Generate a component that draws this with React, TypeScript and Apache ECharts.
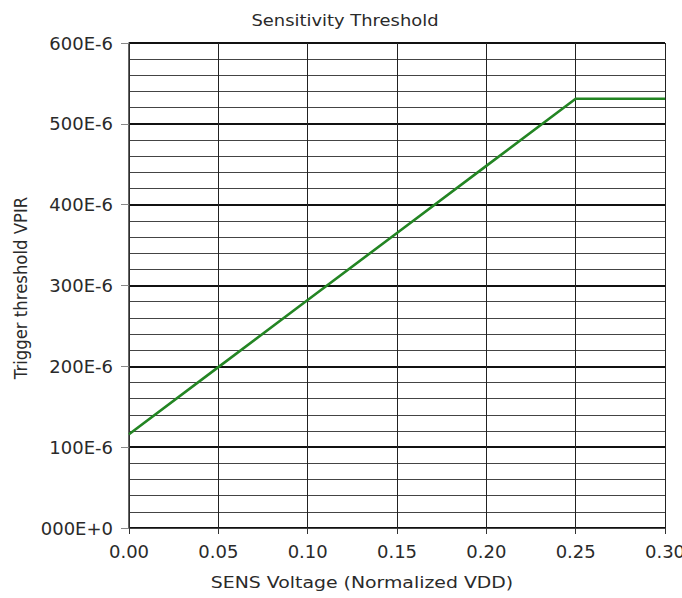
import React, { useEffect, useRef } from "react";
import * as echarts from "echarts";

const chartTitle = "Sensitivity Threshold";
const xAxisName = "SENS Voltage (Normalized VDD)";
const yAxisName = "Trigger threshold VPIR";

// x: SENS voltage (normalized VDD); y: trigger threshold in units of 1E-6
const sensVoltage = [0.0, 0.05, 0.1, 0.15, 0.2, 0.25, 0.3];
const thresholdMicro = [116, 199, 282, 365, 448, 531, 531];

const yTickLabels = ["000E+0", "100E-6", "200E-6", "300E-6", "400E-6", "500E-6", "600E-6"];

const FONT = "DejaVu Sans";

export default function App() {
  const ref = useRef<HTMLDivElement>(null);
  useEffect(() => {
    if (!ref.current) return;
    const chart = echarts.init(ref.current, null, { renderer: "svg" });
    chart.setOption({
      animation: false,
      backgroundColor: "#ffffff",
      grid: {
        left: 129,
        right: 17,
        top: 43,
        bottom: 70,
        containLabel: false,
        outerBoundsMode: "none",
      },
      xAxis: {
        type: "value",
        min: 0,
        max: 0.3,
        interval: 0.05,
        axisLine: { show: true, onZero: false, lineStyle: { color: "#444", width: 1 } },
        axisTick: { show: true, length: 6, lineStyle: { color: "#333" } },
        axisLabel: {
          color: "#2a2a2a",
          fontFamily: FONT,
          fontSize: 18,
          margin: 14,
          formatter: (v: number) => v.toFixed(2),
        },
        splitLine: { show: true, lineStyle: { color: "#222", width: 1 } },
      },
      yAxis: {
        type: "value",
        min: 0,
        max: 600,
        interval: 100,
        axisLine: { show: true, lineStyle: { color: "#333", width: 1.5 } },
        axisTick: { show: true, length: 8, lineStyle: { color: "#888" } },
        axisLabel: {
          color: "#2a2a2a",
          fontFamily: FONT,
          fontSize: 18,
          margin: 16,
          formatter: (v: number) => yTickLabels[Math.round(v / 100)] ?? "",
        },
        splitLine: { show: true, lineStyle: { color: "#111", width: 2.2 } },
        minorTick: { show: false, splitNumber: 5 },
        minorSplitLine: { show: true, lineStyle: { color: "#444", width: 1 } },
      },
      series: [
        {
          type: "line",
          data: sensVoltage.map((x, i) => [x, thresholdMicro[i]]),
          showSymbol: false,
          symbol: "none",
          lineStyle: { color: "#238523", width: 2.6 },
          itemStyle: { color: "#238523" },
          z: 5,
        },
      ],
      graphic: [
        {
          type: "text",
          x: 345,
          y: 20,
          scaleX: 1.12,
          style: {
            text: chartTitle,
            fontFamily: FONT,
            fontSize: 16,
            fill: "#2a2a2a",
            textAlign: "center",
            textVerticalAlign: "middle",
          },
        },
        {
          type: "text",
          x: 362,
          y: 583,
          scaleX: 1.18,
          style: {
            text: xAxisName,
            fontFamily: FONT,
            fontSize: 16,
            fill: "#2a2a2a",
            textAlign: "center",
            textVerticalAlign: "middle",
          },
        },
        {
          type: "text",
          x: 21,
          y: 288,
          rotation: Math.PI / 2,
          scaleY: 1.12,
          style: {
            text: yAxisName,
            fontFamily: FONT,
            fontSize: 16.5,
            fill: "#2a2a2a",
            textAlign: "center",
            textVerticalAlign: "middle",
          },
        },
      ],
    });
    return () => chart.dispose();
  }, []);
  return (
    <div
      ref={ref}
      style={{ position: "fixed", left: 0, top: 0, width: 682, height: 598 }}
    />
  );
}
